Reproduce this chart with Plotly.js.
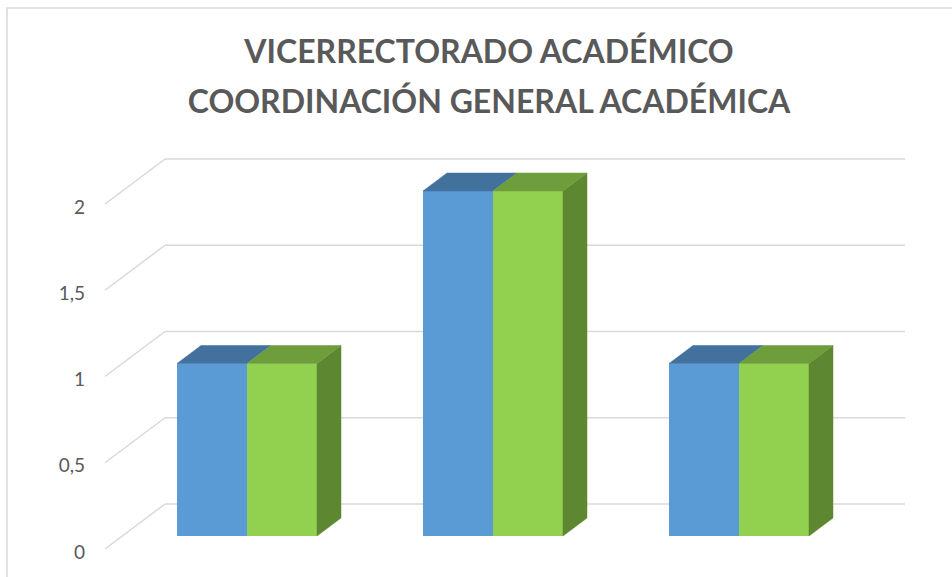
<!DOCTYPE html>
<html><head><meta charset="utf-8">
<script src="https://cdn.plot.ly/plotly-3.0.1.min.js"></script>
<style>html,body{margin:0;padding:0;background:#fff}</style>
</head><body><div id="chart" style="width:952px;height:577px"></div>
<script>
// ---- data ----
const categories = ["Categoría 1", "Categoría 2", "Categoría 3"];
const seriesNames = ["Serie 1", "Serie 2"];
const serie1 = [1, 2, 1];
const serie2 = [1, 2, 1];
const yTicks = [0, 0.5, 1, 1.5, 2];
const titleLine1 = "VICERRECTORADO ACADÉMICO";
const titleLine2 = "COORDINACIÓN GENERAL ACADÉMICA";

// ---- geometry (pixel layout of the pseudo-3D frame) ----
const W = 952, H = 577;
const L = 105, R = 905, T = 140, B = 556;
const K = 172.5;          // px per value unit
const S = 246;            // px per category
const barZeroPx = 536;    // value 0 on the bar front plane
const labelZeroPx = 552;  // value 0 for the tick labels
const frontZeroPx = 549;  // value 0 at front edge of floor
const backZeroPx = 504;   // value 0 on back wall
const wallDepthPx = 60;   // horizontal depth of side wall
const firstCenterPx = 247;

const yRange = [-(B - barZeroPx) / K, (barZeroPx - T) / K];
const y2Range = [(labelZeroPx - B) / K, (labelZeroPx - T) / K];
const x0 = -(firstCenterPx - L) / S;
const xRange = [x0, x0 + (R - L) / S];

const bw = 70 / S;
const dX = 24 / S, dY = 18 / K;
const xIdx = categories.map((c, i) => i);

const colors = {
  blue: "#5B9BD5", blueTop: "#41719C",
  green: "#92D050", greenTop: "#6E9D3C", greenSide: "#5E8732"
};

function topFaces(vals, off) {
  const xs = [], ys = [];
  vals.forEach((v, i) => {
    const xl = i + off, xr = xl + bw;
    xs.push(xl, xr, xr + dX, xl + dX, xl, null);
    ys.push(v, v, v + dY, v + dY, v, null);
  });
  return {xs, ys};
}
function sideFaces(vals, off) {
  const xs = [], ys = [];
  vals.forEach((v, i) => {
    const xr = i + off + bw;
    xs.push(xr, xr, xr + dX, xr + dX, xr, null);
    ys.push(0, v, v + dY, dY, 0, null);
  });
  return {xs, ys};
}

const bt = topFaces(serie1, -bw);
const gt = topFaces(serie2, 0);
const gs = sideFaces(serie2, 0);

function face(f, col) {
  return {type: "scatter", mode: "lines", x: f.xs, y: f.ys, fill: "toself",
    fillcolor: col, line: {color: col, width: 0.5}, hoverinfo: "skip",
    showlegend: false, xaxis: "x", yaxis: "y"};
}

const traces = [
  {type: "bar", name: seriesNames[0], x: xIdx, y: serie1, width: bw, offset: -bw,
   marker: {color: colors.blue, line: {width: 0}}, hovertext: categories, xaxis: "x", yaxis: "y"},
  {type: "bar", name: seriesNames[1], x: xIdx, y: serie2, width: bw, offset: 0,
   marker: {color: colors.green, line: {width: 0}}, hovertext: categories, xaxis: "x", yaxis: "y"},
  face(bt, colors.blueTop),
  face(gs, colors.greenSide),
  face(gt, colors.greenTop),
  // invisible trace to activate yaxis2 (tick labels)
  {type: "scatter", mode: "markers", x: [xRange[0]], y: [0], marker: {opacity: 0},
   hoverinfo: "skip", showlegend: false, xaxis: "x", yaxis: "y2"}
];

const grid = "#D9D9D9";
const shapes = [];
const backXPaper = wallDepthPx / (R - L);
yTicks.forEach(v => {
  const yFront = v - (frontZeroPx - barZeroPx) / K;
  const yBack = v + (barZeroPx - backZeroPx) / K;
  shapes.push({type: "line", layer: "below", xref: "paper", yref: "y",
    x0: 0, x1: backXPaper, y0: yFront, y1: yBack, line: {color: grid, width: 1.5}});
  shapes.push({type: "line", layer: "below", xref: "paper", yref: "y",
    x0: backXPaper, x1: 1, y0: yBack, y1: yBack, line: {color: grid, width: 1.5}});
});
// chart border
shapes.push({type: "rect", layer: "below", xref: "paper", yref: "paper",
  x0: (7 - L) / (R - L), x1: (970 - L) / (R - L),
  y0: (B - 600) / (B - T), y1: (B - 8) / (B - T),
  line: {color: grid, width: 1.5}, fillcolor: "rgba(0,0,0,0)"});

const span = s => '<span style="font-size:32px"><b>' + s + '</b></span>';

const layout = {
  width: W, height: H,
  margin: {l: L, r: W - R, t: T, b: H - B, pad: 0},
  paper_bgcolor: "#fff", plot_bgcolor: "rgba(0,0,0,0)",
  separators: ",.",
  showlegend: false,
  barmode: "overlay",
  hovermode: false,
  title: {
    text: span(titleLine1) + "<br>" + span(titleLine2),
    font: {family: "Lato, sans-serif", size: 38.5, color: "#595959"},
    x: 489 / W, xanchor: "center", xref: "container",
    y: 1 - 63 / H, yanchor: "middle", yref: "container"
  },
  xaxis: {range: xRange, showgrid: false, zeroline: false, showline: false,
    showticklabels: false, ticks: "", fixedrange: true},
  yaxis: {range: yRange, showgrid: false, zeroline: false, showline: false,
    showticklabels: false, ticks: "", fixedrange: true},
  yaxis2: {range: y2Range, overlaying: "y", side: "left", anchor: "x",
    showgrid: false, zeroline: false, showline: false, ticks: "",
    tickmode: "array", tickvals: yTicks, ticklabelstandoff: 19,
    tickfont: {family: "Lato, sans-serif", size: 19, color: "#595959"}, fixedrange: true},
  shapes: shapes
};

Plotly.newPlot("chart", traces, layout, {staticPlot: true, displayModeBar: false});
</script>
</body></html>
